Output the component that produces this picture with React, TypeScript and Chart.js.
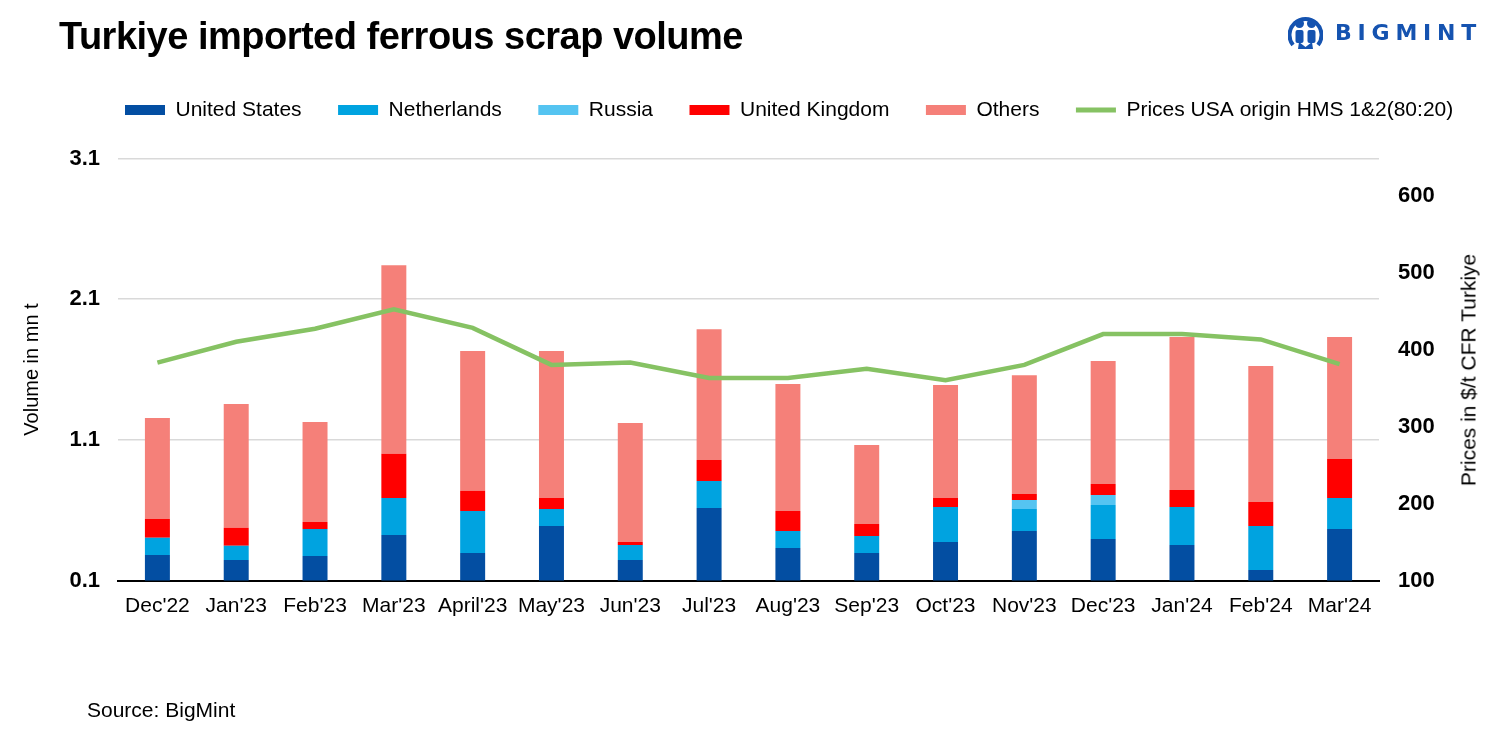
import React, { useEffect, useRef } from 'react';
import { Chart, registerables } from 'chart.js';

Chart.register(...registerables);

const FONT = "'Liberation Sans', Arial, sans-serif";

const categories = ["Dec'22", "Jan'23", "Feb'23", "Mar'23", "April'23", "May'23", "Jun'23", "Jul'23", "Aug'23", "Sep'23", "Oct'23", "Nov'23", "Dec'23", "Jan'24", "Feb'24", "Mar'24"];
const unitedStates = [0.281, 0.246, 0.274, 0.423, 0.295, 0.487, 0.246, 0.615, 0.331, 0.295, 0.374, 0.452, 0.395, 0.352, 0.175, 0.466];
const netherlands = [0.123, 0.101, 0.192, 0.263, 0.299, 0.121, 0.106, 0.192, 0.121, 0.121, 0.248, 0.156, 0.242, 0.270, 0.312, 0.220];
const russia = [0, 0, 0, 0, 0, 0, 0, 0, 0, 0, 0, 0.064, 0.071, 0, 0, 0];
const unitedKingdom = [0.133, 0.128, 0.050, 0.315, 0.144, 0.078, 0.022, 0.149, 0.142, 0.086, 0.064, 0.043, 0.078, 0.121, 0.171, 0.278];
const others = [0.718, 0.879, 0.711, 1.341, 0.993, 1.045, 0.845, 0.931, 0.903, 0.561, 0.804, 0.845, 0.874, 1.088, 0.967, 0.867];
const prices = [383, 410, 427, 452, 428, 380, 383, 363, 363, 375, 360, 380, 420, 420, 413, 381];
const volumeTicks = [0.1, 1.1, 2.1, 3.1];
const priceTicks = [100, 200, 300, 400, 500, 600];

const COLORS = {
  us: '#034ea2',
  nl: '#00a3e0',
  ru: '#55c4f1',
  uk: '#ff0000',
  others: '#f58079',
  price: '#86c263',
};

const LOGO_BLUE = '#1553b0';
const LEGEND_START_X = 125;

const legendShift = {
  id: 'legendShift',
  afterLayout(chart: any) {
    const lg = chart.legend;
    if (!lg) return;
    const p = lg.options.labels.padding;
    const w = lg.right - lg.left;
    lg.left = LEGEND_START_X - p;
    lg.right = lg.left + w;
  },
};

function barSet(label: string, data: number[], color: string) {
  return {
    type: 'bar' as const,
    label,
    data,
    backgroundColor: color,
    borderWidth: 0,
    yAxisID: 'y',
    stack: 'volume',
    order: 1,
    clip: 0,
    barPercentage: 0.317,
    categoryPercentage: 1,
  };
}

export default function App() {
  const ref = useRef<HTMLCanvasElement>(null);

  useEffect(() => {
    const canvas = ref.current;
    if (!canvas) return;
    Chart.defaults.font.family = FONT;
    Chart.defaults.color = '#000';

    const chart = new Chart(canvas, {
      type: 'bar',
      data: {
        labels: categories,
        datasets: [
          barSet('United States', unitedStates, COLORS.us),
          barSet('Netherlands', netherlands, COLORS.nl),
          barSet('Russia', russia, COLORS.ru),
          barSet('United Kingdom', unitedKingdom, COLORS.uk),
          barSet('Others', others, COLORS.others),
          {
            type: 'line' as const,
            label: 'Prices USA origin HMS 1&2(80:20)',
            data: prices,
            borderColor: COLORS.price,
            backgroundColor: COLORS.price,
            borderWidth: 4.5,
            pointRadius: 0,
            tension: 0,
            fill: false,
            yAxisID: 'y1',
            order: 0,
          } as any,
        ],
      },
      options: {
        responsive: false,
        animation: false,
        devicePixelRatio: 1,
        events: [],
        layout: { padding: { left: 10, right: 0, top: 63, bottom: 0 } },
        plugins: {
          tooltip: { enabled: false },
          title: {
            display: true,
            text: ' ',
            position: 'top',
            weight: 100,
            font: { size: 10, lineHeight: 1 },
            padding: { top: 0, bottom: 18 },
            color: 'rgba(0,0,0,0)',
          },
          legend: {
            display: true,
            position: 'top',
            align: 'start',
            labels: {
              usePointStyle: true,
              pointStyleWidth: 40,
              boxHeight: 10,
              padding: 36.5,
              color: '#000',
              font: { size: 21, family: FONT },
              generateLabels: (ch: any) =>
                ch.data.datasets.map((ds: any, i: number) => {
                  const isLine = ds.type === 'line';
                  return {
                    text: ds.label,
                    fillStyle: isLine ? ds.borderColor : ds.backgroundColor,
                    strokeStyle: isLine ? ds.borderColor : ds.backgroundColor,
                    lineWidth: isLine ? 5 : 0,
                    pointStyle: isLine ? 'line' : 'rect',
                    hidden: false,
                    datasetIndex: i,
                    fontColor: '#000',
                  };
                }),
            },
          },
        },
        scales: {
          x: {
            type: 'category',
            stacked: true,
            offset: true,
            z: 1,
            grid: { display: false, drawTicks: false },
            border: { display: true, color: '#000', width: 2 },
            ticks: {
              padding: 13,
              color: '#000',
              font: { size: 21 },
              maxRotation: 0,
              autoSkip: false,
            },
            afterFit: (s: any) => {
              s.height = 169.5;
            },
          },
          y: {
            type: 'linear',
            position: 'left',
            stacked: true,
            min: 0.1,
            max: 3.1,
            afterBuildTicks: (s: any) => {
              s.ticks = volumeTicks.map((v) => ({ value: v }));
            },
            ticks: {
              padding: 18,
              color: '#000',
              font: { size: 22, weight: 'bold' },
              callback: (v: any) => Number(v).toFixed(1),
            },
            grid: {
              drawTicks: false,
              lineWidth: 1.5,
              color: (c: any) => (c.tick && c.tick.value < 0.15 ? 'rgba(0,0,0,0)' : '#d9d9d9'),
            },
            border: { display: false },
            title: {
              display: true,
              text: 'Volume in mn t',
              color: '#000',
              font: { size: 20 },
              padding: { top: 10, bottom: 0 },
            },
            afterFit: (s: any) => {
              s.width = 108;
            },
          },
          y1: {
            type: 'linear',
            position: 'right',
            min: 100,
            max: 648,
            afterBuildTicks: (s: any) => {
              s.ticks = priceTicks.map((v) => ({ value: v }));
            },
            ticks: {
              padding: 19,
              color: '#000',
              font: { size: 22, weight: 'bold' },
            },
            grid: { display: false, drawTicks: false },
            border: { display: false },
            afterFit: (s: any) => {
              s.width = 121;
            },
          },
        },
      } as any,
      plugins: [legendShift],
    });
    return () => chart.destroy();
  }, []);

  return (
    <div
      style={{
        position: 'absolute',
        left: 0,
        top: 0,
        width: 1500,
        height: 750,
        overflow: 'hidden',
        background: '#fff',
        fontFamily: FONT,
        color: '#000',
      }}
    >
      <canvas ref={ref} width={1500} height={750} style={{ position: 'absolute', left: 0, top: 0, width: 1500, height: 750 }} />
      <div
        style={{
          position: 'absolute',
          left: 59,
          top: 17,
          fontSize: 38,
          lineHeight: '38px',
          fontWeight: 'bold',
          letterSpacing: '-0.5px',
          whiteSpace: 'nowrap',
        }}
      >
        Turkiye imported ferrous scrap volume
      </div>
      <svg style={{ position: 'absolute', left: 1288, top: 12 }} width={35} height={38} viewBox="0 0 35 38">
        <path d="M5 33 A16 16 0 1 1 30 33" fill="none" stroke={LOGO_BLUE} strokeWidth={4} />
        <circle cx={11.5} cy={11.5} r={4.5} fill={LOGO_BLUE} />
        <circle cx={23.5} cy={11.5} r={4.5} fill={LOGO_BLUE} />
        <rect x={7.5} y={18} width={8} height={13} rx={2} fill={LOGO_BLUE} />
        <rect x={19.5} y={18} width={8} height={13} rx={2} fill={LOGO_BLUE} />
        <path d="M10 37 L11 30 L17.5 35 L24 30 L25 37 Z" fill={LOGO_BLUE} />
      </svg>
      <div
        style={{
          position: 'absolute',
          left: 1335,
          top: 22.4,
          fontSize: 22,
          lineHeight: '22px',
          fontFamily: "'DejaVu Sans', sans-serif",
          fontWeight: 'bold',
          letterSpacing: '5.8px',
          color: LOGO_BLUE,
          whiteSpace: 'nowrap',
        }}
      >
        BIGMINT
      </div>
      <div
        style={{
          position: 'absolute',
          left: 1468,
          top: 370,
          fontSize: 21,
          lineHeight: '21px',
          whiteSpace: 'nowrap',
          transform: 'translate(-50%, -50%) rotate(-90deg)',
        }}
      >
        Prices in $/t CFR Turkiye
      </div>
      <div
        style={{
          position: 'absolute',
          left: 87,
          top: 699,
          fontSize: 21,
          lineHeight: '21px',
          whiteSpace: 'nowrap',
        }}
      >
        Source: BigMint
      </div>
    </div>
  );
}
